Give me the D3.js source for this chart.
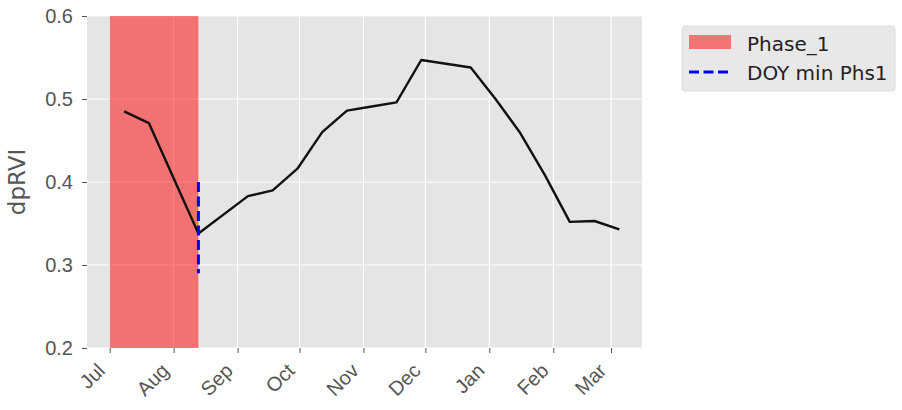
<!DOCTYPE html>
<html>
<head>
<meta charset="utf-8">
<script src="https://cdn.jsdelivr.net/npm/d3@7"></script>
<style>
  body { margin: 0; background: #fff; }
  svg { font-family: "DejaVu Sans", sans-serif; }
</style>
</head>
<body>
<div id="chart"></div>
<script>
// data
var dates = ["2017-07-08", "2017-07-20", "2017-08-13", "2017-09-06", "2017-09-18", "2017-09-30",
             "2017-10-12", "2017-10-24", "2017-11-05", "2017-11-17", "2017-11-29", "2017-12-23",
             "2018-01-04", "2018-01-16", "2018-01-28", "2018-02-09", "2018-02-21", "2018-03-05"];
var dprvi = [0.485, 0.471, 0.338, 0.383, 0.390, 0.416,
             0.460, 0.486, 0.491, 0.496, 0.547, 0.538,
             0.500, 0.459, 0.408, 0.352, 0.353, 0.343];
var phaseStart = "2017-07-01";
var phaseEnd = "2017-08-13";
var doyMin = "2017-08-13";
var doyLine = [0.29, 0.40];
var xLimits = ["2017-06-20", "2018-03-16"];
var yTicks = [0.2, 0.3, 0.4, 0.5, 0.6];
var legendLabels = ["Phase_1", "DOY min Phs1"];

var width = 902, height = 410;
var margin = { left: 87, right: 260, top: 16, bottom: 62 };

var parse = d3.timeParse("%Y-%m-%d");
var data = dates.map(function(d, i) { return { date: parse(d), value: dprvi[i] }; });

var svg = d3.select("#chart").append("svg")
  .attr("width", width)
  .attr("height", height);

var x = d3.scaleTime()
  .domain(xLimits.map(parse))
  .range([margin.left, 642]);
var y = d3.scaleLinear()
  .domain([0.2, 0.6])
  .range([height - margin.bottom, margin.top]);

// plot background
svg.append("rect")
  .attr("x", x.range()[0]).attr("y", y(0.6))
  .attr("width", x.range()[1] - x.range()[0])
  .attr("height", y(0.2) - y(0.6))
  .attr("fill", "#e5e5e5");

var months = d3.timeMonth.range(parse("2017-07-01"), parse("2018-03-02"));

// grid
svg.append("g").selectAll("line").data(months).enter().append("line")
  .attr("x1", function(d) { return x(d); }).attr("x2", function(d) { return x(d); })
  .attr("y1", y(0.2)).attr("y2", y(0.6))
  .attr("stroke", "#fff").attr("stroke-width", 1.2);
svg.append("g").selectAll("line").data(yTicks).enter().append("line")
  .attr("x1", x.range()[0]).attr("x2", x.range()[1])
  .attr("y1", function(d) { return y(d); }).attr("y2", function(d) { return y(d); })
  .attr("stroke", "#fff").attr("stroke-width", 1.2);

// phase span
svg.append("rect")
  .attr("x", x(parse(phaseStart)))
  .attr("y", y(0.6))
  .attr("width", x(parse(phaseEnd)) - x(parse(phaseStart)))
  .attr("height", y(0.2) - y(0.6))
  .attr("fill", "#ff0000").attr("opacity", 0.5);

// line
var line = d3.line()
  .x(function(d) { return x(d.date); })
  .y(function(d) { return y(d.value); });
svg.append("path").datum(data)
  .attr("d", line)
  .attr("fill", "none")
  .attr("stroke", "#111")
  .attr("stroke-width", 2.4)
  .attr("stroke-linejoin", "round");

// DOY min line
svg.append("line")
  .attr("x1", x(parse(doyMin))).attr("x2", x(parse(doyMin)))
  .attr("y1", y(doyLine[1])).attr("y2", y(doyLine[0]))
  .attr("stroke", "#0000ff")
  .attr("stroke-width", 3)
  .attr("stroke-dasharray", "10,4.5");

// axes
var yAxis = d3.axisLeft(y).tickValues(yTicks).tickFormat(d3.format(".1f")).tickSize(5).tickPadding(9);
var gy = svg.append("g").attr("transform", "translate(" + (x.range()[0]) + ",0)").call(yAxis);
gy.select(".domain").remove();
gy.selectAll(".tick line").attr("stroke", "#555");
gy.selectAll("text").attr("fill", "#555").style("font-size", "20px");

var xAxis = d3.axisBottom(x).tickValues(months).tickFormat(d3.timeFormat("%b")).tickSize(5);
var gx = svg.append("g").attr("transform", "translate(0," + y(0.2) + ")").call(xAxis);
gx.select(".domain").remove();
gx.selectAll(".tick line").attr("stroke", "#555");
gx.selectAll("text")
  .attr("fill", "#555")
  .style("font-size", "20px")
  .attr("text-anchor", "end")
  .attr("x", 0).attr("y", 0).attr("dy", 0)
  .attr("transform", "translate(-4,24) rotate(-45)");

svg.append("text")
  .attr("transform", "translate(25," + ((y(0.2) + y(0.6)) / 2) + ") rotate(-90)")
  .attr("text-anchor", "middle")
  .attr("fill", "#555")
  .style("font-size", "23px")
  .text("dpRVI");

// legend
var lg = svg.append("g").attr("transform", "translate(682,26)");
lg.append("rect")
  .attr("width", 213).attr("height", 65).attr("rx", 3)
  .attr("fill", "#e8e8e8").attr("stroke", "#dcdcdc");
lg.append("rect")
  .attr("x", 7).attr("y", 9).attr("width", 42).attr("height", 14)
  .attr("fill", "#ff0000").attr("opacity", 0.5);
lg.append("line")
  .attr("x1", 7).attr("x2", 49).attr("y1", 46).attr("y2", 46)
  .attr("stroke", "#0000ff").attr("stroke-width", 3).attr("stroke-dasharray", "10,4.5");
lg.selectAll("text.lab").data(legendLabels).enter().append("text")
  .attr("class", "lab")
  .attr("x", 65)
  .attr("y", function(d, i) { return 25 + i * 29; })
  .attr("fill", "#222")
  .style("font-size", "20px")
  .text(function(d) { return d; });
</script>
</body>
</html>
